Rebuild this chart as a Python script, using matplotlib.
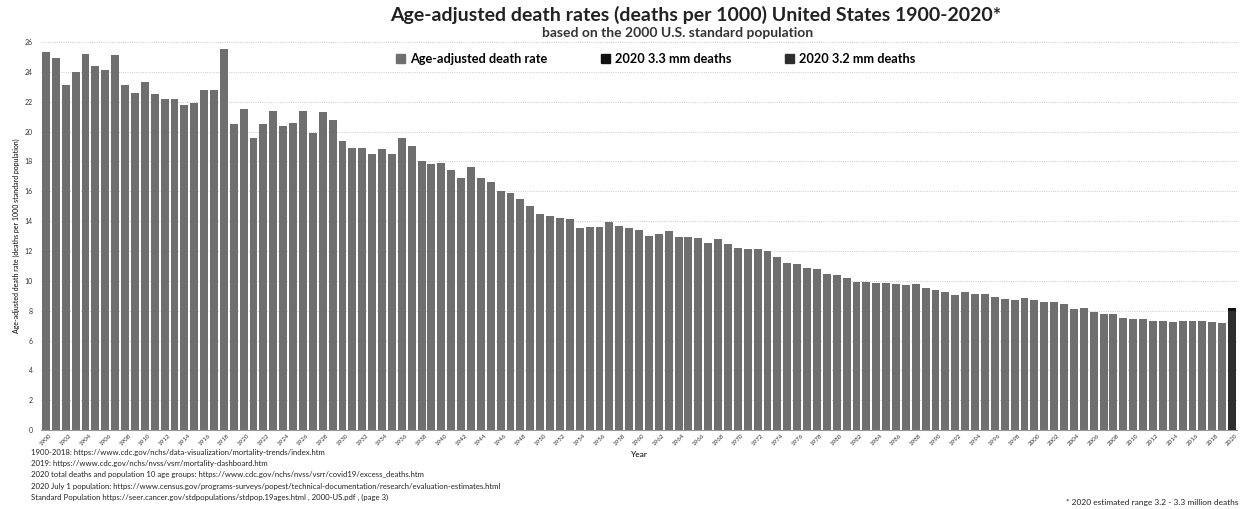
import numpy as np
import matplotlib
matplotlib.use("Agg")
import matplotlib.pyplot as plt
from matplotlib.patches import Patch

plt.rcParams['font.family'] = ['Lato', 'DejaVu Sans']

# age-adjusted death rate, deaths per 1000 (2000 U.S. standard population)
years = list(range(1900, 2020))
rates = [25.3, 24.9, 23.1, 24.0, 25.2, 24.4, 24.1, 25.1, 23.1, 22.6,
         23.3, 22.5, 22.2, 22.2, 21.8, 21.9, 22.8, 22.8, 25.5, 20.5,
         21.5, 19.6, 20.5, 21.4, 20.4, 20.6, 21.4, 19.9, 21.3, 20.8,
         19.4, 18.9, 18.9, 18.5, 18.8, 18.5, 19.6, 19.0, 18.0, 17.8,
         17.9, 17.4, 16.9, 17.6, 16.9, 16.6, 16.0, 15.9, 15.5, 15.0,
         14.46, 14.35, 14.18, 14.13, 13.54, 13.60, 13.63, 13.91, 13.65, 13.52,
         13.39, 12.99, 13.16, 13.36, 12.91, 12.91, 12.90, 12.56, 12.79, 12.45,
         12.23, 12.13, 12.15, 11.98, 11.61, 11.22, 11.12, 10.86, 10.77, 10.48,
         10.39, 10.16, 9.90, 9.94, 9.83, 9.88, 9.79, 9.70, 9.76, 9.51,
         9.39, 9.22, 9.06, 9.26, 9.14, 9.10, 8.94, 8.78, 8.71, 8.82,
         8.69, 8.59, 8.56, 8.44, 8.14, 8.15, 7.92, 7.75, 7.75, 7.50,
         7.47, 7.41, 7.33, 7.32, 7.25, 7.33, 7.29, 7.32, 7.24, 7.15]
year_2020 = 2020
rate_2020_33 = 8.2   # 3.3 million deaths
rate_2020_32 = 7.95  # 3.2 million deaths

footnotes = [
    "1900-2018: https://www.cdc.gov/nchs/data-visualization/mortality-trends/index.htm",
    "2019: https://www.cdc.gov/nchs/nvss/vsrr/mortality-dashboard.htm",
    "2020 total deaths and population 10 age groups: https://www.cdc.gov/nchs/nvss/vsrr/covid19/excess_deaths.htm",
    "2020 July 1 population: https://www.census.gov/programs-surveys/popest/technical-documentation/research/evaluation-estimates.html",
    "Standard Population https://seer.cancer.gov/stdpopulations/stdpop.19ages.html , 2000-US.pdf , (page 3)",
]

fig = plt.figure(figsize=(12.51, 5.09), dpi=100)
ax = fig.add_axes([0.0328, 0.155, 0.956, 0.7625])

ax.bar(years, rates, width=0.8, color='#6f6f6f', zorder=2)
ax.bar([year_2020], [rate_2020_33], width=0.8, color='#111111', zorder=2)
ax.bar([year_2020], [rate_2020_32], width=0.8, color='#2e2e2e', zorder=3)

ax.set_xlim(1899.5, 2020.5)
ax.set_ylim(0, 26)
ax.set_yticks(np.arange(0, 27, 2))
ax.tick_params(axis='y', labelsize=5, length=0, pad=6, colors='#333333')
ax.set_xticks(np.arange(1900, 2021, 2))
ax.set_xticklabels([str(y) for y in range(1900, 2021, 2)], rotation=45, fontsize=4.5, color='#333333')
ax.tick_params(axis='x', length=0, pad=2)
ax.grid(axis='y', color='#bbbbbb', ls=':', lw=0.6, zorder=0)
for s in ['top', 'right', 'left']:
    ax.spines[s].set_visible(False)
ax.spines['bottom'].set_color('#999999')
ax.set_ylabel("Age-adjusted death rate (deaths per 1000 standard population)", fontsize=5, labelpad=3)
ax.set_xlabel("Year", fontsize=6, labelpad=3)

fig.text(0.556, 0.97, "Age-adjusted death rates (deaths per 1000) United States 1900-2020*",
         ha='center', va='center', fontsize=14, fontweight='bold', color='#222222')
fig.text(0.542, 0.935, "based on the 2000 U.S. standard population",
         ha='center', va='center', fontsize=10, fontweight='bold', color='#333333')

handles = [Patch(color='#6f6f6f', label='Age-adjusted death rate'),
           Patch(color='#111111', label='2020 3.3 mm deaths'),
           Patch(color='#2e2e2e', label='2020 3.2 mm deaths')]
fig.legend(handles=handles, loc='center', bbox_to_anchor=(0.524, 0.885), ncol=3, frameon=False,
           handlelength=0.7, handleheight=0.7, columnspacing=4.2, handletextpad=0.4,
           prop={'weight': 'bold', 'size': 9.2})

for i, line in enumerate(footnotes):
    fig.text(0.025, 0.111 - i * 0.022, line, fontsize=5.6, ha='left', va='center', color='#222222')
fig.text(0.99, 0.012, "* 2020 estimated range 3.2 - 3.3 million deaths", fontsize=6,
         ha='right', va='center', color='#222222')

fig.savefig("out.png", dpi=100)
